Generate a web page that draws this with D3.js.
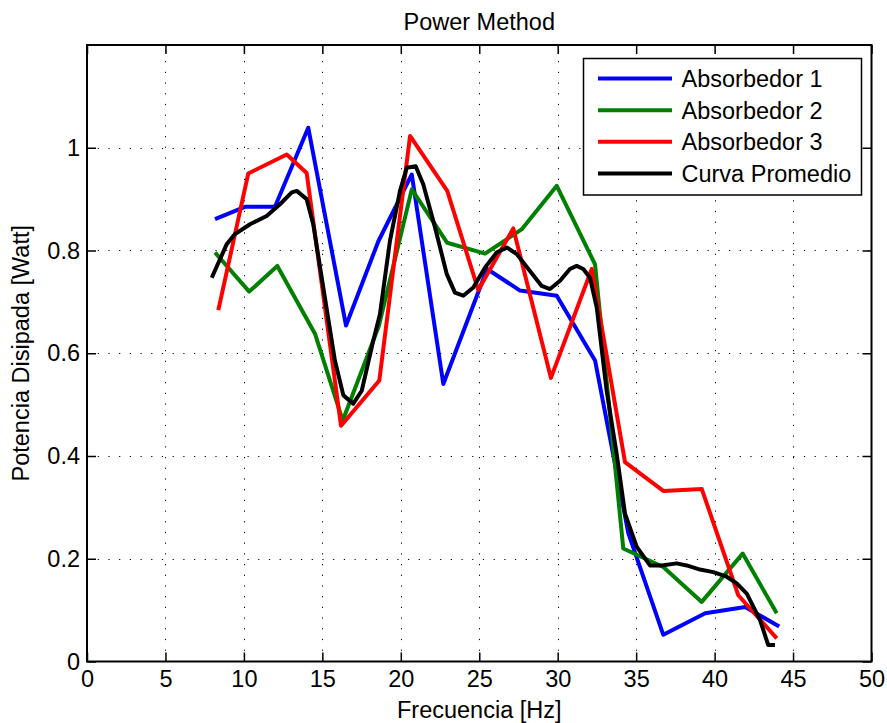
<!DOCTYPE html>
<html>
<head>
<meta charset="utf-8">
<script src="https://cdn.jsdelivr.net/npm/d3@7"></script>
<style>
  html, body { margin: 0; padding: 0; background: #fff; }
  svg { display: block; }
  text { font-family: "Liberation Sans", Arial, Helvetica, sans-serif; fill: #000; }
</style>
</head>
<body>
<svg id="chart" width="887" height="723"></svg>
<script>
// ---- Data ----
const title = "Power Method";
const xLabel = "Frecuencia [Hz]";
const yLabel = "Potencia Disipada [Watt]";

const xTicks = [0, 5, 10, 15, 20, 25, 30, 35, 40, 45, 50];
const yTicks = [0, 0.2, 0.4, 0.6, 0.8, 1];
const yTickLabels = ["0", "0.2", "0.4", "0.6", "0.8", "1"];

const seriesNames = ["Absorbedor 1", "Absorbedor 2", "Absorbedor 3", "Curva Promedio"];
const seriesColors = ["#0000ff", "#008000", "#ff0000", "#000000"];

const blueX = [8.16, 10.07, 11.98, 14.10, 16.51, 18.57, 20.70, 22.71, 25.5, 27.6, 29.94, 32.38, 34.5, 36.73, 39.4, 41.95, 44.12];
const blueY = [0.861, 0.885, 0.885, 1.039, 0.654, 0.818, 0.948, 0.540, 0.764, 0.722, 0.712, 0.586, 0.25, 0.052, 0.094, 0.106, 0.068];

const greenX = [8.16, 10.34, 12.13, 14.53, 16.30, 18.6, 20.70, 22.96, 25.37, 27.7, 29.94, 32.38, 34.18, 36.73, 39.18, 41.79, 43.96];
const greenY = [0.796, 0.720, 0.770, 0.638, 0.469, 0.653, 0.919, 0.815, 0.794, 0.841, 0.926, 0.773, 0.220, 0.184, 0.116, 0.210, 0.094];

const redX = [8.37, 10.28, 12.73, 14.0, 16.19, 18.63, 20.59, 22.96, 24.94, 27.17, 29.57, 32.17, 34.29, 36.73, 39.18, 41.51, 43.96];
const redY = [0.684, 0.950, 0.987, 0.951, 0.459, 0.547, 1.023, 0.916, 0.723, 0.843, 0.552, 0.764, 0.388, 0.332, 0.336, 0.129, 0.045];

const avgX = [7.95, 8.90, 9.43, 10.39, 11.45, 12.30, 13.05, 13.37, 14.0, 14.42, 15.06, 15.80, 16.34, 16.97, 17.51, 18.25, 18.67, 19.31, 19.95, 20.38, 20.95, 21.43, 22.18, 22.93, 23.45, 23.98, 24.62, 25.37, 26.11, 26.75, 27.39, 28.23, 28.98, 29.51, 30.15, 30.78, 31.21, 31.63, 32.06, 32.49, 33.12, 33.76, 34.29, 35.04, 35.88, 36.63, 37.58, 38.22, 39.07, 39.92, 40.77, 41.41, 42.05, 42.89, 43.42, 43.85];
const avgY = [0.747, 0.812, 0.832, 0.851, 0.867, 0.890, 0.913, 0.916, 0.900, 0.851, 0.728, 0.586, 0.518, 0.502, 0.527, 0.625, 0.676, 0.819, 0.916, 0.961, 0.964, 0.929, 0.845, 0.754, 0.718, 0.712, 0.728, 0.767, 0.796, 0.806, 0.793, 0.760, 0.731, 0.725, 0.741, 0.764, 0.770, 0.764, 0.747, 0.689, 0.527, 0.404, 0.288, 0.223, 0.187, 0.187, 0.191, 0.187, 0.179, 0.174, 0.165, 0.152, 0.132, 0.081, 0.032, 0.032];

// ---- Layout ----
const W = 887, H = 723;
const plot = { left: 87, right: 871.5, top: 45, bottom: 661.5 };
const FONT = 23.5;

const svg = d3.select("#chart");
svg.append("rect").attr("width", W).attr("height", H).attr("fill", "#fff");

const x = d3.scaleLinear().domain([0, 50]).range([plot.left, plot.right]);
const y = d3.scaleLinear().domain([0, 1.2]).range([plot.bottom, plot.top]);

// grid
const grid = svg.append("g").attr("stroke", "#000").attr("stroke-width", 1).attr("stroke-dasharray", "1.2,9.5");
grid.selectAll("line.gx").data(xTicks.filter(t => t > 0 && t < 50)).enter().append("line")
  .attr("x1", d => Math.round(x(d)) + 0.5).attr("x2", d => Math.round(x(d)) + 0.5)
  .attr("y1", plot.bottom).attr("y2", plot.top);
grid.selectAll("line.gy").data(yTicks.filter(t => t > 0)).enter().append("line")
  .attr("y1", d => Math.round(y(d)) + 0.5).attr("y2", d => Math.round(y(d)) + 0.5)
  .attr("x1", plot.left).attr("x2", plot.right);

// axes (ticks inward on all four sides)
const tickLen = 9;
const axB = d3.axisBottom(x).tickValues(xTicks).tickSizeInner(-tickLen).tickSizeOuter(0).tickPadding(9).tickFormat(d3.format("d"));
const axT = d3.axisTop(x).tickValues(xTicks).tickSizeInner(-tickLen).tickSizeOuter(0).tickFormat("");
const axL = d3.axisLeft(y).tickValues(yTicks).tickSizeInner(-tickLen).tickSizeOuter(0).tickPadding(7)
  .tickFormat((d, i) => yTickLabels[i]);
const axR = d3.axisRight(y).tickValues(yTicks).tickSizeInner(-tickLen).tickSizeOuter(0).tickFormat("");

function styleAxis(g) {
  g.select(".domain").remove();
  g.selectAll(".tick line").attr("stroke", "#000").attr("stroke-width", 1.5);
  g.selectAll(".tick text").attr("font-size", FONT).attr("fill", "#000")
    .attr("font-family", "'Liberation Sans', Arial, sans-serif");
}
svg.append("g").attr("transform", `translate(0,${plot.bottom})`).call(axB).call(styleAxis);
svg.append("g").attr("transform", `translate(0,${plot.top})`).call(axT).call(styleAxis);
svg.append("g").attr("transform", `translate(${plot.left},0)`).call(axL).call(styleAxis);
svg.append("g").attr("transform", `translate(${plot.right},0)`).call(axR).call(styleAxis);

// series
const series = [
  { xs: blueX, ys: blueY },
  { xs: greenX, ys: greenY },
  { xs: redX, ys: redY },
  { xs: avgX, ys: avgY }
];
const line = d3.line().x(d => x(d[0])).y(d => y(d[1]));
svg.append("clipPath").attr("id", "clip").append("rect")
  .attr("x", plot.left).attr("y", plot.top).attr("width", plot.right - plot.left).attr("height", plot.bottom - plot.top);
series.forEach((s, i) => {
  const pts = s.xs.map((v, j) => [v, s.ys[j]]);
  svg.append("path").datum(pts).attr("d", line)
    .attr("fill", "none").attr("stroke", seriesColors[i]).attr("stroke-width", 4)
    .attr("stroke-linejoin", "round").attr("stroke-linecap", "butt")
    .attr("clip-path", "url(#clip)");
});

// frame
svg.append("rect").attr("x", plot.left).attr("y", plot.top)
  .attr("width", plot.right - plot.left).attr("height", plot.bottom - plot.top)
  .attr("fill", "none").attr("stroke", "#000").attr("stroke-width", 2);

// legend
const lg = { x0: 583.5, y0: 58.5, x1: 861.5, y1: 195 };
svg.append("rect").attr("x", lg.x0).attr("y", lg.y0).attr("width", lg.x1 - lg.x0).attr("height", lg.y1 - lg.y0)
  .attr("fill", "#fff").attr("stroke", "#000").attr("stroke-width", 1.5);
const rowY = d3.scaleLinear().domain([0, 3]).range([78.5, 173.5]);
seriesNames.forEach((name, i) => {
  svg.append("line").attr("x1", 598).attr("x2", 672).attr("y1", rowY(i)).attr("y2", rowY(i))
    .attr("stroke", seriesColors[i]).attr("stroke-width", 4);
  svg.append("text").attr("x", 681.5).attr("y", rowY(i) + 8.5).attr("font-size", FONT).text(name);
});

// titles
svg.append("text").attr("x", (plot.left + plot.right) / 2).attr("y", 29.5)
  .attr("text-anchor", "middle").attr("font-size", FONT).text(title);
svg.append("text").attr("x", (plot.left + plot.right) / 2).attr("y", 718)
  .attr("text-anchor", "middle").attr("font-size", FONT).text(xLabel);
svg.append("text").attr("transform", `translate(28.5,${(plot.top + plot.bottom) / 2}) rotate(-90)`)
  .attr("text-anchor", "middle").attr("font-size", FONT).text(yLabel);
</script>
</body>
</html>
